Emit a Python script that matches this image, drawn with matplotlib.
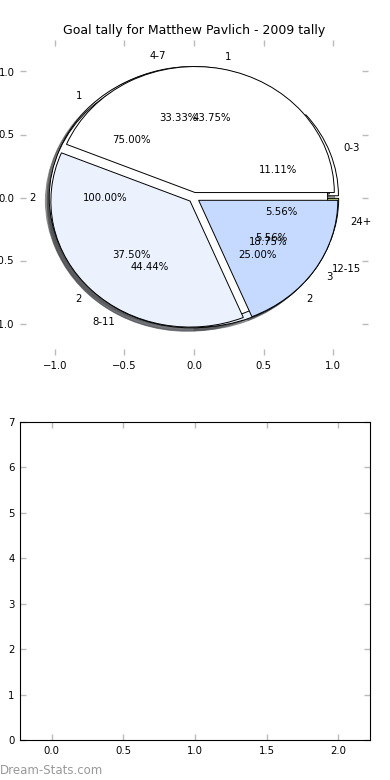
import matplotlib
matplotlib.use('Agg')
import matplotlib.pyplot as plt

# pie data, four pies drawn on top of each other
range_labels = ['0-3', '4-7', '8-11', '12-15', '24+']
range_counts = [2, 6, 8, 1, 1]
c_labels = ['1', '2']
c_counts = [3, 1]
d_labels = ['2']
d_counts = [1]
b_labels = ['1', '2', '3']
b_counts = [7, 6, 3]

pie_colors = ['#ffffff', '#ebf2fe', '#c6d9fe', '#9fbff8', '#c8e08a']

plt.rcParams['font.family'] = 'DejaVu Sans'
plt.rcParams['font.size'] = 7.3

fig = plt.figure(figsize=(3.9, 7.8), dpi=100)
ax = fig.add_axes([20/390, 425/780, 348/390, 315/780])
ax_bar = fig.add_axes([20/390, 40/780, 350/390, 318/780])

def draw_pie(ax, counts, labels, explode):
    wedges, texts, autotexts = ax.pie(counts, labels=labels, autopct='%1.2f%%',
                                      colors=pie_colors[:len(counts)],
                                      explode=[explode]*len(counts), shadow=True,
                                      wedgeprops={'edgecolor': 'k', 'linewidth': 0.7},
                                      textprops={'fontsize': 7.3})
    return wedges

draw_pie(ax, range_counts, range_labels, 0.04)
draw_pie(ax, c_counts, c_labels, 0.04)
draw_pie(ax, d_counts, d_labels, 0.04)
draw_pie(ax, b_counts, b_labels, 0.04)

ax.set_aspect('auto')
ax.set_frame_on(False)
ax.set_xlim(-1.25, 1.25)
ax.set_ylim(-1.25, 1.25)
ticks = [-1.0, -0.5, 0.0, 0.5, 1.0]
ax.set_xticks(ticks)
ax.set_yticks(ticks)
ax.set_title('Goal tally for Matthew Pavlich - 2009 tally', fontsize=9, pad=4)

for a in (ax, ax_bar):
    a.tick_params(direction='in', length=4, color='#bbbbbb', width=1,
                  top=True, right=True, labelsize=7.3, pad=4)

# empty bottom chart
ax_bar.set_xlim(-0.22, 2.22)
ax_bar.set_ylim(0, 7)
ax_bar.set_xticks([0.0, 0.5, 1.0, 1.5, 2.0])
ax_bar.set_yticks(range(0, 8))

fig.text(0.0, 10/780, 'Dream-Stats.com', color='#999999', fontsize=8.5, va='center', ha='left')

fig.savefig('out.png', dpi=100, facecolor='white')
